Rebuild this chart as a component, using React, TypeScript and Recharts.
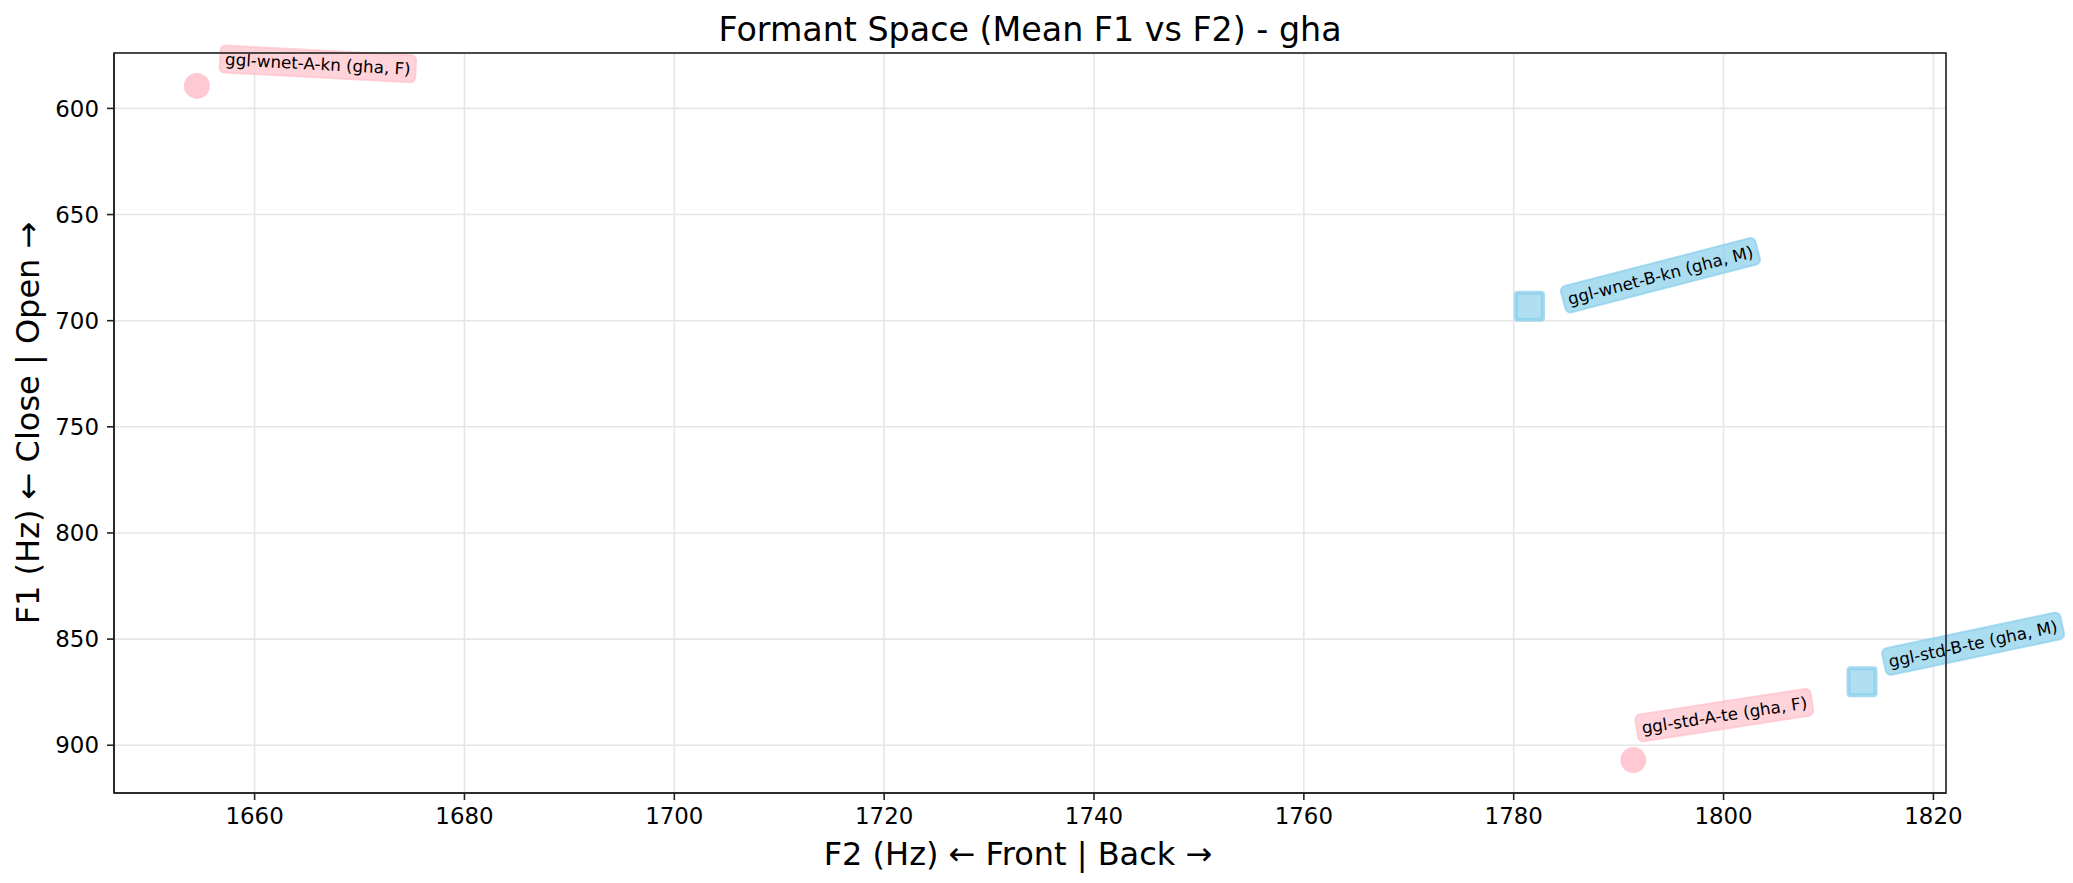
import React from "react";
import { ScatterChart, Scatter, XAxis, YAxis, CartesianGrid } from "recharts";

// mean formants per speaker (Hz)
const speakers = ["ggl-wnet-A-kn", "ggl-wnet-B-kn", "ggl-std-A-te", "ggl-std-B-te"];
const language = "gha";
const sexes = ["F", "M", "F", "M"];
const meanF2 = [1654.5, 1781.5, 1791.4, 1813.2];
const meanF1 = [589.4, 693.2, 907.0, 870.1];

const f2Ticks = [1660, 1680, 1700, 1720, 1740, 1760, 1780, 1800, 1820];
const f1Ticks = [600, 650, 700, 750, 800, 850, 900];
const f2Domain = [1646.6, 1821.2];
const f1Domain = [573.9, 922.5];

// where each annotation box sits (px from its point to box centre) and its tilt
const labelPlacement = [
  { dx: 121, dy: -22, angle: 3 },
  { dx: 131, dy: -31, angle: -14.5 },
  { dx: 91, dy: -45, angle: -8.8 },
  { dx: 111, dy: -38, angle: -11.9 },
];

const W = 2073;
const H = 883;
const PLOT_LEFT = 114;
const PLOT_RIGHT = 1946;
const PLOT_TOP = 53;
const PLOT_BOTTOM = 793;
const FONT = "DejaVu Sans";
const AXIS = "#222";
const PINK = "#FFC0CB";
const BLUE = "#87CEEB";

let ctx: CanvasRenderingContext2D | null = null;
function textWidth(s: string, size: number) {
  if (!ctx) ctx = document.createElement("canvas").getContext("2d");
  if (!ctx) return s.length * size * 0.52;
  ctx.font = `${size}px "${FONT}"`;
  return ctx.measureText(s).width;
}

function PointLabel({ cx, cy, i, color }: any) {
  const p = labelPlacement[i];
  const text = `${speakers[i]} (${language}, ${sexes[i]})`;
  const fs = 16.7;
  const w = textWidth(text, fs) + 10;
  const h = 27;
  const bx = cx + p.dx;
  const by = cy + p.dy;
  return (
    <g transform={`rotate(${p.angle} ${bx} ${by})`}>
      <rect
        x={bx - w / 2}
        y={by - h / 2}
        width={w}
        height={h}
        rx={5}
        fill={color}
        fillOpacity={0.7}
        stroke={color}
        strokeOpacity={0.7}
        strokeWidth={2}
      />
      <text
        x={bx}
        y={by}
        textAnchor="middle"
        dominantBaseline="central"
        fontSize={fs}
        fontFamily={FONT}
        fill="#000"
      >
        {text}
      </text>
    </g>
  );
}

const rows = speakers.map((s, i) => ({ f2: meanF2[i], f1: meanF1[i], idx: i }));
const female = rows.filter((r) => sexes[r.idx] === "F");
const male = rows.filter((r) => sexes[r.idx] === "M");

const tickStyle = { fontSize: 22.9, fontFamily: FONT, fill: "#000" };
const midX = (PLOT_LEFT + PLOT_RIGHT) / 2;
const midY = (PLOT_TOP + PLOT_BOTTOM) / 2;

export default function App() {
  return (
    <div style={{ position: "absolute", left: 0, top: 0, width: W, height: H, background: "#fff" }}>
      <ScatterChart
        width={W}
        height={H}
        margin={{ top: PLOT_TOP, right: W - PLOT_RIGHT, bottom: 0, left: 0 }}
      >
        <CartesianGrid stroke="#e6e6e6" strokeWidth={1.6} />
        <XAxis
          type="number"
          dataKey="f2"
          domain={f2Domain}
          ticks={f2Ticks}
          height={H - PLOT_BOTTOM}
          tickSize={7}
          tickMargin={8}
          tick={tickStyle}
          tickLine={{ stroke: AXIS, strokeWidth: 1.6 }}
          axisLine={{ stroke: AXIS, strokeWidth: 1.6 }}
          label={{
            content: () => (
              <text
                x={midX - 12}
                y={854}
                textAnchor="middle"
                dominantBaseline="central"
                fontSize={32}
                fontFamily={FONT}
                fill="#000"
              >
                F2 (Hz) ← Front | Back →
              </text>
            ),
          }}
        />
        <YAxis
          type="number"
          dataKey="f1"
          domain={f1Domain}
          ticks={f1Ticks}
          reversed
          width={PLOT_LEFT}
          tickSize={7}
          tickMargin={8}
          tick={tickStyle}
          tickLine={{ stroke: AXIS, strokeWidth: 1.6 }}
          axisLine={{ stroke: AXIS, strokeWidth: 1.6 }}
          label={{
            content: () => (
              <text
                x={28}
                y={midY}
                textAnchor="middle"
                dominantBaseline="central"
                fontSize={32}
                fontFamily={FONT}
                fill="#000"
                transform={`rotate(-90 28 ${midY})`}
              >
                F1 (Hz) ← Close | Open →
              </text>
            ),
          }}
        />
        <Scatter
          data={female}
          isAnimationActive={false}
          shape={(props: any) => (
            <g>
              <circle cx={props.cx} cy={props.cy} r={13} fill={PINK} fillOpacity={0.85} />
              <PointLabel cx={props.cx} cy={props.cy} i={props.payload.idx} color={PINK} />
            </g>
          )}
        />
        <Scatter
          data={male}
          isAnimationActive={false}
          shape={(props: any) => (
            <g>
              <rect
                x={props.cx - 13.5}
                y={props.cy - 13.5}
                width={27}
                height={27}
                rx={2}
                fill={BLUE}
                fillOpacity={0.65}
                stroke={BLUE}
                strokeOpacity={0.75}
                strokeWidth={4}
                strokeLinejoin="round"
              />
              <PointLabel cx={props.cx} cy={props.cy} i={props.payload.idx} color={BLUE} />
            </g>
          )}
        />
      </ScatterChart>
      {/* title and the top/right spines */}
      <svg
        width={W}
        height={H}
        style={{ position: "absolute", left: 0, top: 0, pointerEvents: "none" }}
      >
        <rect
          x={PLOT_LEFT}
          y={PLOT_TOP}
          width={PLOT_RIGHT - PLOT_LEFT}
          height={PLOT_BOTTOM - PLOT_TOP}
          fill="none"
          stroke={AXIS}
          strokeWidth={1.6}
        />
        <text x={midX} y={41} textAnchor="middle" fontSize={33.3} fontFamily={FONT} fill="#000">
          Formant Space (Mean F1 vs F2) - gha
        </text>
      </svg>
    </div>
  );
}
